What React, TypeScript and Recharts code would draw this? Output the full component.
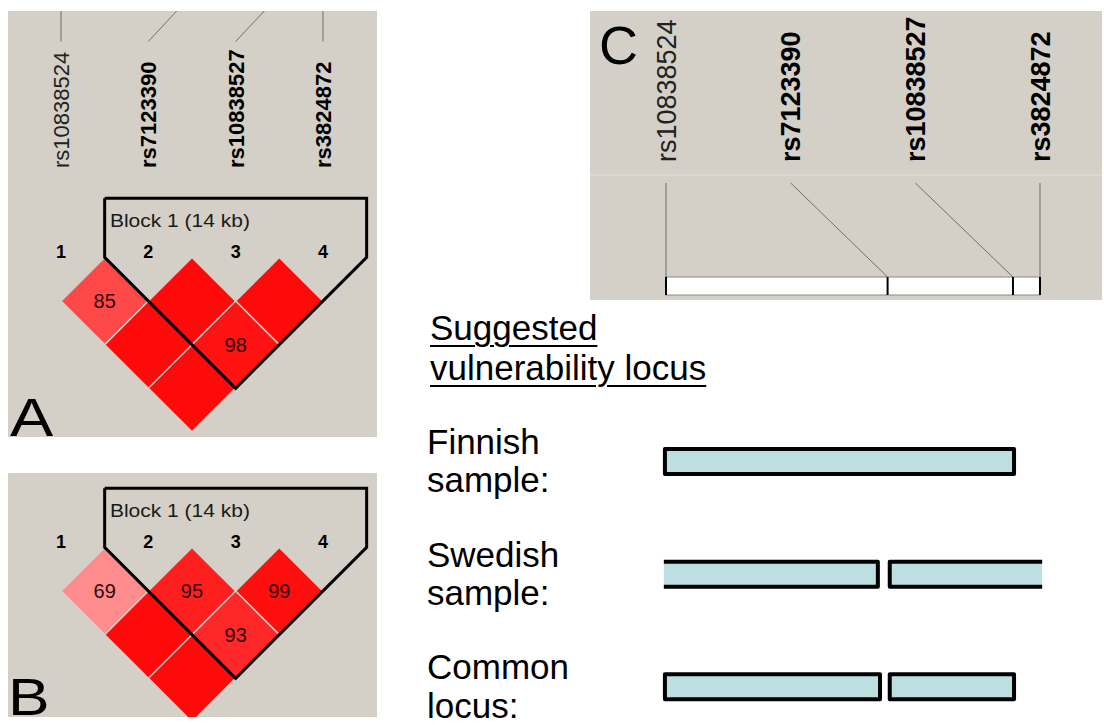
import React from 'react';
import {
  ScatterChart,
  Scatter,
  XAxis,
  YAxis,
  ReferenceLine,
  ReferenceArea,
  BarChart,
  Bar,
} from 'recharts';

// ---------------- data ----------------
const snpNames = ['rs10838524', 'rs7123390', 'rs10838527', 'rs3824872'];
const snpIndex = [1, 2, 3, 4];
const snpPositionKb = [0, 20.5, 32.1, 34.6];
const snpInBlock = [false, true, true, true];

const blockName = 'Block 1 (14 kb)';
const blockFirstSnp = 2;
const blockLastSnp = 4;

const ldPairFirst = [1, 2, 3, 1, 2, 1];
const ldPairSecond = [2, 3, 4, 3, 4, 4];
const ldDPrimeFinnish = [85, 100, 100, 100, 98, 100];
const ldDPrimeSwedish = [69, 95, 99, 100, 93, 100];

const locusTitle = ['Suggested', 'vulnerability locus'];
const locusRows = ['Finnish', 'Swedish', 'Common'];
const locusRowLines = [
  ['Finnish', 'sample:'],
  ['Swedish', 'sample:'],
  ['Common', 'locus:'],
];
const locusSeg1Kb: (number[] | null)[] = [[-0.1, 32.2], [-0.2, 19.6], [-0.1, 19.8]];
const locusSeg2Kb: (number[] | null)[] = [null, [20.7, 34.8], [20.7, 32.2]];
const locusSeg1OpenStart = [false, true, false];
const locusSeg2OpenEnd = [false, true, false];

const panelLetters = ['A', 'B', 'C'];

// ---------------- styles / layout ----------------
const FONT = '"Liberation Sans", Arial, Helvetica, sans-serif';
const PANEL_BG = '#d4d0c8';
const LINK_GRAY = '#6e6e6e';
const LOCUS_FILL = '#bddfe2';

const LD_LEFT = 8;
const LD_W = 369;
const LD_X_DOMAIN: [number, number] = [0.3931, 4.6185];
const LD_PX_PER_SNP = LD_W / (LD_X_DOMAIN[1] - LD_X_DOMAIN[0]);
const LD_PX_PER_LEVEL = LD_PX_PER_SNP / 2;

const LEVEL_BLOCK_TOP = -1.35;
const LEVEL_BLOCK_LABEL = -0.7;
const LEVEL_NUMBERS = -0.14;
const LEVEL_NAME_END = -2.046;
const LEVEL_TICK_BOTTOM = -4.943;
const LEVEL_TICK_RISE = 1.67;

const C_LEFT = 590;
const C_TOP = 11;
const C_W = 512;
const C_H = 289;
const C_X_DOMAIN: [number, number] = [-7.031, 40.337];
const C_Y_DOMAIN: [number, number] = [0, 289];
const C_NAME_END = 151;
const C_LINK_TOP = 172;
const C_TRACK_TOP = 266;
const C_TRACK_BOTTOM = 284;
const C_SEPARATOR = 164;

const D_LEFT = 420;
const D_TOP = 300;
const D_W = 682;
const D_H = 443;
const D_LABEL_W = 170;
const D_MARGIN_TOP = 105;

function ldColor(d: number) {
  const g = Math.round(Math.min(255, 10 + 4.2 * (100 - d)));
  return `rgb(255,${g},${g})`;
}

const firstPos = snpPositionKb[0];
const lastPos = snpPositionKb[snpPositionKb.length - 1];
const genomicToIndex = (kb: number) =>
  snpIndex[0] + ((snpIndex[snpIndex.length - 1] - snpIndex[0]) * (kb - firstPos)) / (lastPos - firstPos);

// ---------------- shapes ----------------
const EmptyShape = () => <g />;

const DiamondShape = (props: any) => {
  const { cx, cy, payload } = props;
  const h = LD_PX_PER_LEVEL - 1.1;
  return (
    <g>
      <polygon
        points={`${cx},${cy - h} ${cx + h},${cy} ${cx},${cy + h} ${cx - h},${cy}`}
        fill={ldColor(payload.d)}
      />
      {payload.d < 100 && (
        <text x={cx} y={cy} dy="0.36em" textAnchor="middle" fontSize={20} fill="#330808" fontFamily={FONT}>
          {payload.d}
        </text>
      )}
    </g>
  );
};

const NumberShape = (props: any) => {
  const { cx, cy, payload } = props;
  return (
    <text x={cx} y={cy} dy="0.36em" textAnchor="middle" fontSize={18} fontWeight="bold" fill="#000" fontFamily={FONT}>
      {payload.label}
    </text>
  );
};

const BlockLabelShape = (props: any) => {
  const { cx, cy, payload } = props;
  return (
    <text x={cx} y={cy} fontSize={18} fill="#1a1a1a" fontFamily={FONT} textLength={140} lengthAdjust="spacingAndGlyphs">
      {payload.label}
    </text>
  );
};

const makeNameShape = (fontSize: number) => (props: any) => {
  const { cx, cy, payload } = props;
  return (
    <text
      x={cx}
      y={cy}
      dy="0.36em"
      transform={`rotate(-90 ${cx} ${cy})`}
      textAnchor="start"
      fontSize={fontSize}
      fontWeight={payload.bold ? 'bold' : 'normal'}
      fill={payload.bold ? '#000' : '#222'}
      fontFamily={FONT}
    >
      {payload.label}
    </text>
  );
};

const NameShapeA = makeNameShape(22);
const NameShapeC = makeNameShape(27);

// ---------------- LD panel (A / B) ----------------
type LDProps = { dprime: number[]; top: number; height: number; yMin: number; showNames: boolean };

function LDPanel({ dprime, top, height, yMin, showNames }: LDProps) {
  const yMax = yMin + height / LD_PX_PER_LEVEL;
  const cells = ldPairFirst.map((a, i) => ({
    x: (a + ldPairSecond[i]) / 2,
    y: ldPairSecond[i] - a,
    d: dprime[i],
  }));
  const numbers = snpIndex.map((s) => ({ x: s, y: LEVEL_NUMBERS, label: String(s) }));
  const names = snpNames.map((n, i) => ({ x: snpIndex[i], y: LEVEL_NAME_END, label: n, bold: snpInBlock[i] }));
  const f = blockFirstSnp;
  const l = blockLastSnp;
  const outline = [
    { x: f - 0.5, y: LEVEL_BLOCK_TOP },
    { x: l + 0.5, y: LEVEL_BLOCK_TOP },
    { x: l + 0.5, y: 0 },
    { x: (f + l) / 2, y: l - f + 1 },
    { x: f - 0.5, y: 0 },
    { x: f - 0.5, y: LEVEL_BLOCK_TOP },
  ];
  const blockLabel = [{ x: f - 0.5 + 0.06, y: LEVEL_BLOCK_LABEL, label: blockName }];
  const t = (LEVEL_TICK_BOTTOM - yMin) / LEVEL_TICK_RISE;

  return (
    <div style={{ position: 'absolute', left: LD_LEFT, top, width: LD_W, height, background: PANEL_BG }}>
      <ScatterChart width={LD_W} height={height} margin={{ top: 0, right: 0, bottom: 0, left: 0 }}>
        <XAxis type="number" dataKey="x" domain={LD_X_DOMAIN} allowDataOverflow hide />
        <YAxis type="number" dataKey="y" domain={[yMin, yMax]} reversed allowDataOverflow hide />
        {showNames &&
          snpIndex.map((s, i) => {
            const g = genomicToIndex(snpPositionKb[i]);
            return (
              <ReferenceLine
                key={`tick-${s}`}
                segment={[
                  { x: s, y: LEVEL_TICK_BOTTOM },
                  { x: s + t * (g - s), y: yMin },
                ]}
                stroke={LINK_GRAY}
                strokeWidth={1}
                ifOverflow="visible"
              />
            );
          })}
        <Scatter data={cells} shape={DiamondShape} isAnimationActive={false} />
        <Scatter
          data={outline}
          line={{ stroke: '#000', strokeWidth: 3, strokeLinejoin: 'miter' }}
          lineType="joint"
          shape={EmptyShape}
          isAnimationActive={false}
        />
        <Scatter data={numbers} shape={NumberShape} isAnimationActive={false} />
        <Scatter data={blockLabel} shape={BlockLabelShape} isAnimationActive={false} />
        {showNames && <Scatter data={names} shape={NameShapeA} isAnimationActive={false} />}
      </ScatterChart>
    </div>
  );
}

// ---------------- panel C ----------------
function MarkerMap() {
  const span = lastPos - firstPos;
  const labelKb = snpPositionKb.map((_, i) => firstPos + (i * span) / (snpPositionKb.length - 1));
  const names = snpNames.map((n, i) => ({ x: labelKb[i], y: C_NAME_END, label: n, bold: snpInBlock[i] }));
  return (
    <div style={{ position: 'absolute', left: C_LEFT, top: C_TOP, width: C_W, height: C_H, background: PANEL_BG }}>
      <ScatterChart width={C_W} height={C_H} margin={{ top: 0, right: 0, bottom: 0, left: 0 }}>
        <XAxis type="number" dataKey="x" domain={C_X_DOMAIN} allowDataOverflow hide />
        <YAxis type="number" dataKey="y" domain={C_Y_DOMAIN} reversed allowDataOverflow hide />
        <ReferenceLine y={C_SEPARATOR} stroke="#e2dfd8" strokeWidth={1} ifOverflow="visible" />
        {snpPositionKb.map((kb, i) => (
          <ReferenceLine
            key={`link-${i}`}
            segment={[
              { x: labelKb[i], y: C_LINK_TOP },
              { x: kb, y: C_TRACK_TOP },
            ]}
            stroke={LINK_GRAY}
            strokeWidth={1}
            ifOverflow="visible"
          />
        ))}
        <ReferenceArea
          x1={firstPos}
          x2={lastPos}
          y1={C_TRACK_TOP}
          y2={C_TRACK_BOTTOM}
          fill="#ffffff"
          fillOpacity={1}
          stroke="#8a8a8a"
          strokeWidth={1.2}
          ifOverflow="visible"
        />
        {snpPositionKb.map((kb, i) => (
          <ReferenceLine
            key={`mark-${i}`}
            segment={[
              { x: kb, y: C_TRACK_TOP },
              { x: kb, y: C_TRACK_BOTTOM },
            ]}
            stroke="#000"
            strokeWidth={2}
            ifOverflow="visible"
          />
        ))}
        <Scatter data={names} shape={NameShapeC} isAnimationActive={false} />
      </ScatterChart>
    </div>
  );
}

// ---------------- locus bars ----------------
function segmentPath(x: number, y: number, w: number, h: number, openStart: boolean, openEnd: boolean) {
  const x0 = x;
  const x1 = x + w;
  const y0 = y;
  const y1 = y + h;
  if (openStart && openEnd) return `M${x0},${y0} L${x1},${y0} M${x0},${y1} L${x1},${y1}`;
  if (openStart) return `M${x0},${y0} L${x1},${y0} L${x1},${y1} L${x0},${y1}`;
  if (openEnd) return `M${x1},${y0} L${x0},${y0} L${x0},${y1} L${x1},${y1}`;
  return `M${x0},${y0} L${x1},${y0} L${x1},${y1} L${x0},${y1} Z`;
}

const makeSegmentShape = (which: 1 | 2) => (props: any) => {
  const { x, y, width, height, payload } = props;
  const row = payload ? locusRows.indexOf(payload.row) : -1;
  if (row < 0) return <g />;
  const seg = which === 1 ? locusSeg1Kb[row] : locusSeg2Kb[row];
  if (!seg || !(width > 0)) return <g />;
  const openStart = which === 1 ? locusSeg1OpenStart[row] : false;
  const openEnd = which === 2 ? locusSeg2OpenEnd[row] : false;
  return (
    <g>
      <rect x={x} y={y} width={width} height={height} fill={LOCUS_FILL} />
      <path
        d={segmentPath(x, y, width, height, openStart, openEnd)}
        fill="none"
        stroke="#000"
        strokeWidth={4}
        strokeLinejoin="round"
      />
    </g>
  );
};

const Seg1Shape = makeSegmentShape(1);
const Seg2Shape = makeSegmentShape(2);

const RowTick = (props: any) => {
  const { y, payload } = props;
  const idx = locusRows.indexOf(payload.value);
  const lines = idx >= 0 ? locusRowLines[idx] : [String(payload.value)];
  return (
    <g>
      {lines.map((ln, i) => (
        <text key={i} x={7} y={y - 7.5 + i * 38.5} fontSize={35} fill="#000" fontFamily={FONT}>
          {ln}
        </text>
      ))}
    </g>
  );
};

function LocusBars() {
  const data = locusRows.map((row, i) => ({ row, seg1: locusSeg1Kb[i], seg2: locusSeg2Kb[i] }));
  return (
    <div style={{ position: 'absolute', left: D_LEFT, top: D_TOP, width: D_W, height: D_H }}>
      <BarChart
        width={D_W}
        height={D_H}
        data={data}
        layout="vertical"
        barGap={-25}
        margin={{ top: D_MARGIN_TOP, right: 0, bottom: 0, left: 0 }}
      >
        <XAxis type="number" domain={C_X_DOMAIN} allowDataOverflow hide />
        <YAxis
          type="category"
          dataKey="row"
          width={D_LABEL_W}
          axisLine={false}
          tickLine={false}
          tick={(p: any) => <RowTick {...p} />}
        />
        <Bar dataKey="seg1" barSize={25} shape={Seg1Shape} isAnimationActive={false} />
        <Bar dataKey="seg2" barSize={25} shape={Seg2Shape} isAnimationActive={false} />
      </BarChart>
    </div>
  );
}

// ---------------- app ----------------
export default function App() {
  return (
    <div
      style={{
        position: 'absolute',
        left: 0,
        top: 0,
        width: 1104,
        height: 725,
        overflow: 'hidden',
        background: '#ffffff',
        fontFamily: FONT,
      }}
    >
      <LDPanel dprime={ldDPrimeFinnish} top={11} height={426} yMin={-5.641} showNames />
      <LDPanel dprime={ldDPrimeSwedish} top={473} height={244} yMin={-1.702} showNames={false} />
      <MarkerMap />
      <LocusBars />

      <div
        style={{
          position: 'absolute',
          left: 430,
          top: 308,
          fontSize: 35,
          lineHeight: '40px',
          color: '#000',
          whiteSpace: 'nowrap',
          textDecoration: 'underline',
          textDecorationThickness: '2px',
          textUnderlineOffset: '5px',
        }}
      >
        {locusTitle.map((t) => (
          <div key={t}>{t}</div>
        ))}
      </div>

      <div
        style={{
          position: 'absolute',
          left: 10,
          top: 390,
          fontSize: 54,
          lineHeight: '54px',
          transform: 'scaleX(1.2)',
          transformOrigin: 'left top',
          color: '#000',
        }}
      >
        {panelLetters[0]}
      </div>
      <div
        style={{
          position: 'absolute',
          left: 8,
          top: 671,
          fontSize: 52,
          lineHeight: '52px',
          transform: 'scaleX(1.2)',
          transformOrigin: 'left top',
          color: '#000',
        }}
      >
        {panelLetters[1]}
      </div>
      <div
        style={{
          position: 'absolute',
          left: 599,
          top: 18,
          fontSize: 54,
          lineHeight: '54px',
          color: '#000',
        }}
      >
        {panelLetters[2]}
      </div>
    </div>
  );
}
